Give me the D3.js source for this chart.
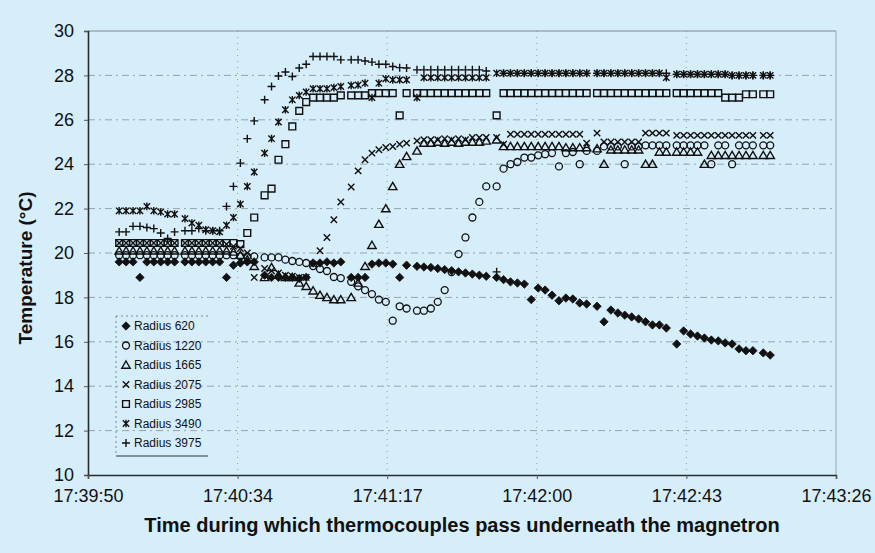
<!DOCTYPE html>
<html>
<head>
<meta charset="utf-8">
<script src="https://cdn.jsdelivr.net/npm/d3@7"></script>
<style>
body{margin:0;background:#d6eefa;}
svg{display:block;font-family:"Liberation Sans",Arial,sans-serif;}
</style>
</head>
<body>
<svg id="chart" width="875" height="553"></svg>
<script>
// sample clock times (logger steps of 2 s, sometimes 3 s)
var startTime = "17:39:50";
var times = [
	"17:39:59","17:40:01","17:40:03","17:40:05","17:40:07","17:40:09","17:40:11","17:40:13","17:40:15",
	"17:40:18","17:40:20","17:40:22","17:40:24","17:40:26","17:40:28","17:40:30","17:40:32","17:40:34","17:40:36","17:40:38",
	"17:40:41","17:40:43","17:40:45","17:40:47","17:40:49","17:40:51","17:40:53","17:40:55","17:40:57","17:40:59","17:41:01","17:41:03",
	"17:41:06","17:41:08","17:41:10","17:41:12","17:41:14","17:41:16","17:41:18","17:41:20","17:41:22",
	"17:41:25","17:41:27","17:41:29","17:41:31","17:41:33","17:41:35","17:41:37","17:41:39","17:41:41","17:41:43","17:41:45",
	"17:41:48","17:41:50","17:41:52","17:41:54","17:41:56","17:41:58","17:42:00","17:42:02","17:42:04","17:42:06","17:42:08","17:42:10","17:42:12","17:42:14",
	"17:42:17","17:42:19","17:42:21","17:42:23","17:42:25","17:42:27","17:42:29","17:42:31","17:42:33","17:42:35","17:42:37",
	"17:42:40","17:42:42","17:42:44","17:42:46","17:42:48","17:42:50","17:42:52","17:42:54","17:42:56","17:42:58","17:43:00","17:43:02",
	"17:43:05","17:43:07"
];
var tickLabels = ["17:39:50","17:40:34","17:41:17","17:42:00","17:42:43","17:43:26"];
var yTicks = [10,12,14,16,18,20,22,24,26,28,30];
var seriesNames = ["Radius 620","Radius 1220","Radius 1665","Radius 2075","Radius 2985","Radius 3490","Radius 3975"];
var markerTypes = ["diamond","circle","triangle","cross","square","star","plus"];

var r620 = [
	19.6,19.6,19.6,18.9,19.6,19.6,19.6,19.6,19.6,
	19.6,19.6,19.6,19.6,19.6,19.6,18.9,19.45,19.55,19.6,19.6,
	19.0,18.9,18.9,18.9,18.9,18.85,18.9,19.55,19.55,19.6,19.55,19.6,
	18.9,18.9,18.9,19.5,19.55,19.55,19.5,18.9,19.45,
	19.4,19.37,19.35,19.3,19.25,19.2,19.15,19.1,19.05,19.0,18.95,
	18.9,18.8,18.7,18.65,18.6,17.9,18.42,18.33,18.1,17.85,17.97,17.93,17.75,17.7,
	17.6,16.9,17.43,17.3,17.2,17.12,17.03,16.9,16.76,16.76,16.62,
	15.9,16.49,16.35,16.26,16.17,16.08,16.04,15.95,15.9,15.68,15.6,15.6,
	15.5,15.4
];
var r1220 = [
	19.9,19.9,19.9,19.9,19.9,19.9,19.9,19.9,19.9,
	19.9,19.9,19.9,19.9,19.9,19.9,19.9,19.9,19.85,19.85,19.85,
	19.8,19.8,19.8,19.7,19.64,19.6,19.55,19.41,19.28,19.19,18.92,18.87,
	18.7,18.5,18.33,18.15,17.9,17.8,16.95,17.6,17.5,
	17.4,17.4,17.5,17.8,18.33,19.14,19.95,20.7,21.6,22.3,23.0,
	23.0,23.8,24.0,24.1,24.3,24.3,24.4,24.45,24.5,23.9,24.5,24.55,24.0,24.6,
	24.6,24.8,24.8,24.8,24.0,24.8,24.8,24.85,24.85,24.85,24.85,
	24.85,24.85,24.85,24.85,24.85,24.0,24.85,24.85,24.0,24.85,24.85,24.85,
	24.85,24.85
];
var r1665 = [
	20.1,20.1,20.1,20.1,20.1,20.1,20.1,20.1,20.1,
	20.1,20.1,20.1,20.1,20.1,20.1,20.1,20.05,19.9,19.7,19.4,
	18.9,19.35,19.0,18.9,18.9,18.65,18.5,18.3,18.1,18.0,17.9,17.9,
	18.0,18.65,19.4,20.35,21.3,22.0,23.0,24.0,24.35,
	24.6,24.95,24.95,25.0,24.95,25.0,24.95,25.0,25.0,25.0,25.05,
	25.1,24.8,24.8,24.8,24.8,24.8,24.8,24.8,24.8,24.8,24.75,24.75,24.75,24.75,
	24.7,24.0,24.65,24.65,24.65,24.65,24.65,24.0,24.0,24.55,24.55,
	24.55,24.55,24.55,24.55,24.0,24.4,24.4,24.4,24.4,24.4,24.4,24.4,
	24.4,24.4
];
var r2075 = [
	20.45,20.45,20.45,20.45,20.45,20.45,20.45,20.45,20.45,
	20.45,20.45,20.45,20.45,20.45,20.45,20.4,20.3,20.2,20.0,18.9,
	19.3,19.2,19.1,19.0,18.95,18.9,18.9,19.5,20.1,20.7,21.5,22.3,
	22.97,23.7,24.2,24.5,24.65,24.75,24.8,24.9,24.95,
	25.05,25.1,25.1,25.1,25.15,25.1,25.15,25.1,25.2,25.2,25.2,
	25.2,24.9,25.35,25.35,25.35,25.35,25.35,25.35,25.35,25.35,25.35,25.35,25.35,24.95,
	25.4,25.0,25.0,25.0,25.0,25.0,25.0,25.4,25.4,25.4,25.4,
	25.3,25.3,25.3,25.3,25.3,25.3,25.3,25.3,25.3,25.3,25.3,25.3,
	25.3,25.3
];
var r2985 = [
	20.45,20.45,20.45,20.45,20.45,20.45,20.45,20.45,20.45,
	20.45,20.45,20.45,20.45,20.45,20.45,20.45,20.45,20.4,20.9,21.6,
	22.6,22.9,24.2,24.9,25.7,26.4,26.8,27.0,27.0,27.0,27.0,27.1,
	27.1,27.1,27.1,27.2,27.2,27.2,27.2,26.2,27.2,
	27.2,27.2,27.2,27.2,27.2,27.2,27.2,27.2,27.2,27.2,27.2,
	26.2,27.2,27.2,27.2,27.2,27.2,27.2,27.2,27.2,27.2,27.2,27.2,27.2,27.2,
	27.2,27.2,27.2,27.2,27.2,27.2,27.2,27.2,27.2,27.2,27.2,
	27.2,27.2,27.2,27.2,27.2,27.2,27.2,27.0,27.0,27.0,27.15,27.15,
	27.15,27.15
];
var r3490 = [
	21.9,21.9,21.9,21.9,22.1,21.9,21.85,21.75,21.75,
	21.55,21.35,21.25,21.05,21.0,20.95,21.25,21.6,22.2,23.0,23.65,
	24.5,25.15,25.9,26.45,26.9,27.1,27.25,27.4,27.4,27.4,27.45,27.5,
	27.55,27.57,27.65,27.0,27.65,27.85,27.8,27.8,27.8,
	27.0,27.9,27.9,27.9,27.9,27.9,27.9,27.9,27.9,27.9,27.9,
	28.1,28.1,28.1,28.1,28.1,28.1,28.1,28.1,28.1,28.1,28.1,28.1,28.1,28.1,
	28.1,28.1,28.1,28.1,28.1,28.1,28.1,28.1,28.1,28.1,27.9,
	28.05,28.05,28.05,28.05,28.05,28.05,28.05,28.05,28.0,28.0,28.0,28.0,
	28.0,28.0
];
var r3975 = [
	20.95,20.95,21.2,21.2,21.15,21.1,20.9,20.65,20.95,
	21.0,21.0,21.1,21.0,21.0,21.0,22.1,23.0,24.05,25.15,25.95,
	26.9,27.5,27.97,28.15,27.95,28.33,28.5,28.85,28.85,28.85,28.85,28.7,
	28.7,28.7,28.65,28.6,28.5,28.5,28.4,28.35,28.33,
	28.25,28.25,28.25,28.25,28.25,28.25,28.25,28.25,28.25,28.25,28.2,
	19.15,28.1,28.1,28.1,28.1,28.1,28.1,28.1,28.1,28.1,28.1,28.1,28.1,28.1,
	28.1,28.1,28.1,28.1,28.1,28.1,28.1,28.1,28.1,28.1,28.1,
	28.05,28.05,28.05,28.05,28.05,28.05,28.05,28.05,28.0,28.0,28.0,28.0,
	28.0,28.0
];
var seriesValues = [r620, r1220, r1665, r2075, r2985, r3490, r3975];

function toSec(s){
	var p = s.split(":");
	return (+p[0])*3600 + (+p[1])*60 + (+p[2]);
}

var svg = d3.select("#chart");
var W = 875, H = 553;
var plotL = 88, plotR = 836, plotT = 31, plotB = 475;
var majorUnit = 43.2; // 0.0005 day, the axis step

var t0 = toSec(startTime);
var x = d3.scaleLinear().domain([0, majorUnit*(tickLabels.length-1)]).range([plotL, plotR]);
var y = d3.scaleLinear().domain([10, 30]).range([plotB, plotT]);

svg.append("rect")
	.attr("x",0).attr("y",0).attr("width",W).attr("height",H)
	.attr("fill","#d6eefa");

// grid
svg.append("g").selectAll("line")
	.data(yTicks.slice(1, -1))
	.enter().append("line")
	.attr("x1",plotL).attr("x2",plotR)
	.attr("y1",function(d){ return y(d); })
	.attr("y2",function(d){ return y(d); })
	.attr("stroke","#95a4ad")
	.attr("stroke-width",1)
	.attr("stroke-dasharray","7,4,2,4");
svg.append("g").selectAll("line")
	.data(tickLabels.slice(1, -1))
	.enter().append("line")
	.attr("y1",plotT).attr("y2",plotB)
	.attr("x1",function(d,i){ return x((i+1)*majorUnit); })
	.attr("x2",function(d,i){ return x((i+1)*majorUnit); })
	.attr("stroke","#8e9ea8")
	.attr("stroke-width",1)
	.attr("stroke-dasharray","1,5");

// frame
svg.append("line").attr("x1",plotL).attr("x2",plotR).attr("y1",plotT).attr("y2",plotT)
	.attr("stroke","#7d8a92").attr("stroke-width",1);
svg.append("line").attr("x1",plotR).attr("x2",plotR).attr("y1",plotT).attr("y2",plotB)
	.attr("stroke","#9aa8b0").attr("stroke-width",1);

// axes
var yAxis = d3.axisLeft(y).tickValues(yTicks).tickSize(4).tickPadding(10);
var gy = svg.append("g").attr("transform","translate(" + plotL + ",0)").call(yAxis);
var xAxis = d3.axisBottom(x)
	.tickValues(tickLabels.map(function(d,i){ return i*majorUnit; }))
	.tickFormat(function(d,i){ return tickLabels[i]; })
	.tickSize(4).tickPadding(10);
var gx = svg.append("g").attr("transform","translate(0," + plotB + ")").call(xAxis);
[gx, gy].forEach(function(g){
	g.select(".domain").attr("stroke","#2a2a2a").attr("stroke-width",1.6);
	g.selectAll(".tick line").attr("stroke","#555");
	g.selectAll(".tick text")
		.attr("fill","#111")
		.style("font-size","18px")
		.style("font-family","'Liberation Sans',Arial,sans-serif");
});

// titles
svg.append("text")
	.attr("transform","translate(32,268) rotate(-90)")
	.attr("text-anchor","middle")
	.style("font-size","19px").style("font-weight","bold")
	.attr("fill","#111")
	.text("Temperature (°C)");
svg.append("text")
	.attr("x",462).attr("y",532)
	.attr("text-anchor","middle")
	.style("font-size","20px").style("font-weight","bold")
	.attr("fill","#111")
	.text("Time during which thermocouples pass underneath the magnetron");

// markers
function drawMarker(sel, type){
	if (type == "circle"){
		sel.append("circle").attr("r",3.5)
			.attr("fill","none").attr("stroke","#111").attr("stroke-width",1.3);
		return;
	}
	var d = {
		diamond: "M0,-4.2L4.2,0L0,4.2L-4.2,0Z",
		triangle: "M0,-4L4.2,3.2L-4.2,3.2Z",
		cross: "M-3.2,-3.2L3.2,3.2M-3.2,3.2L3.2,-3.2",
		square: "M-3.4,-3.4H3.4V3.4H-3.4Z",
		star: "M-3.2,-3.2L3.2,3.2M-3.2,3.2L3.2,-3.2M0,-3.8V3.8",
		plus: "M-4,0H4M0,-4V4"
	}[type];
	sel.append("path").attr("d",d)
		.attr("fill", type == "diamond" ? "#111" : "none")
		.attr("stroke","#111")
		.attr("stroke-width", type == "diamond" ? 0.8 : 1.4);
}

seriesValues.forEach(function(vals, s){
	var pts = [];
	vals.forEach(function(v, i){
		if (v != null) pts.push({t: toSec(times[i]) - t0, v: v});
	});
	var g = svg.append("g").attr("class","series-" + s);
	g.selectAll("g")
		.data(pts)
		.enter().append("g")
		.attr("transform",function(d){ return "translate(" + x(d.t) + "," + y(d.v) + ")"; })
		.each(function(){ drawMarker(d3.select(this), markerTypes[s]); });
});

// legend
var lg = svg.append("g").attr("transform","translate(116,316)");
lg.append("line").attr("x1",0).attr("x2",92).attr("y1",0).attr("y2",0)
	.attr("stroke","#7d8a92").attr("stroke-dasharray","2,3");
lg.append("line").attr("x1",0).attr("x2",0).attr("y1",0).attr("y2",140)
	.attr("stroke","#7d8a92").attr("stroke-dasharray","2,3");
lg.append("line").attr("x1",0).attr("x2",92).attr("y1",140).attr("y2",140)
	.attr("stroke","#333").attr("stroke-width",1);
seriesNames.forEach(function(name, i){
	var row = lg.append("g").attr("transform","translate(10," + (10 + i*19.5) + ")");
	drawMarker(row.append("g"), markerTypes[i]);
	row.append("text").attr("x",8).attr("y",4)
		.style("font-size","12px").attr("fill","#111")
		.text(name);
});
</script>
</body>
</html>
